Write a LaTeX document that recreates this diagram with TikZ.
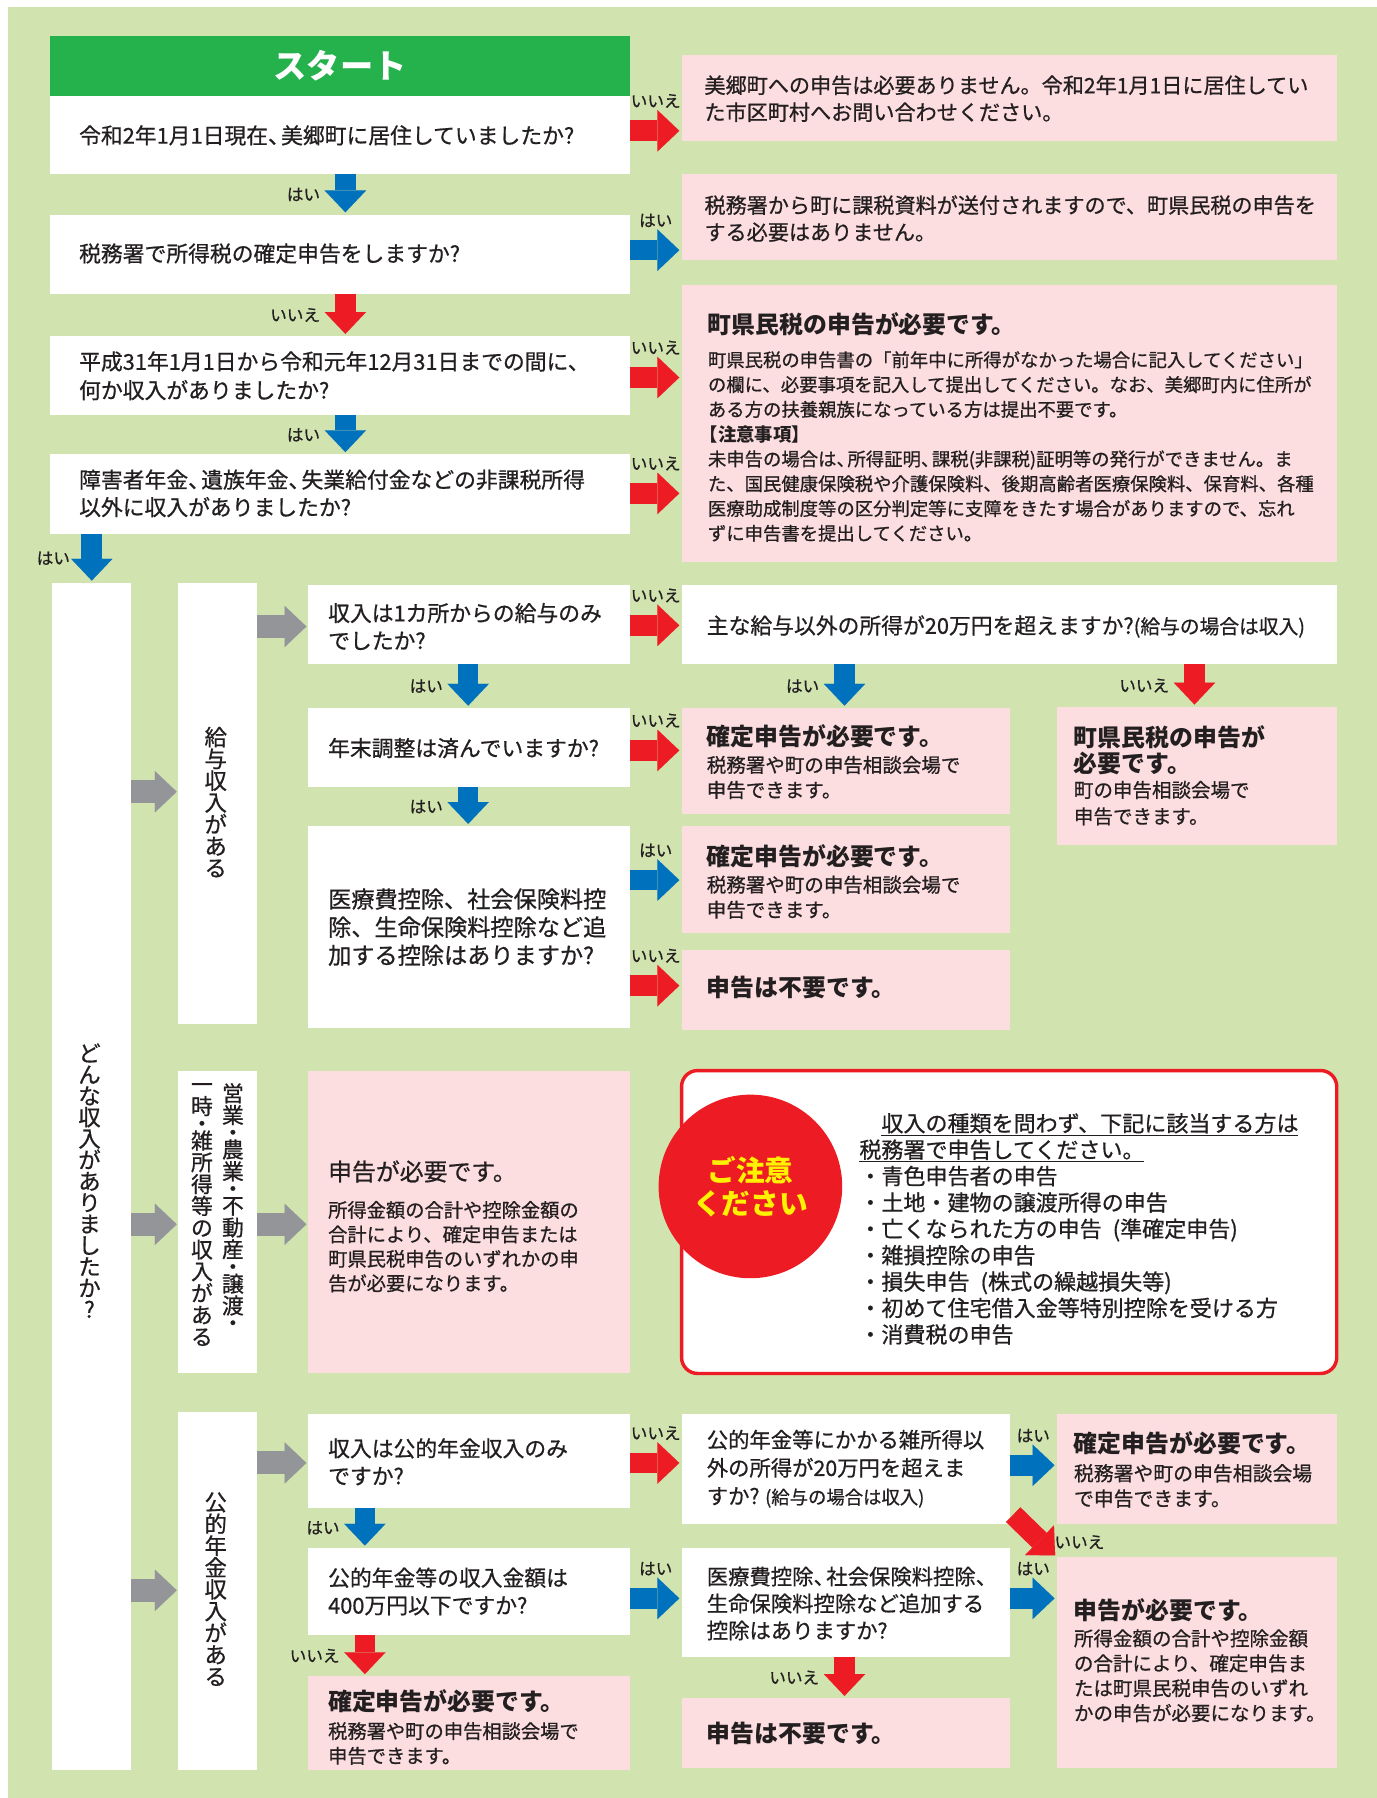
\documentclass[tikz,border=0pt]{standalone}
\usepackage{fontspec}
\setmainfont{Noto Sans CJK JP}[UprightFeatures={FakeBold=0.7}]
\usetikzlibrary{arrows.meta,calc}
\definecolor{bgc}{RGB}{209,228,176}
\definecolor{startc}{RGB}{37,177,76}
\definecolor{pinkc}{RGB}{252,221,224}
\definecolor{redc}{RGB}{237,28,36}
\definecolor{bluec}{RGB}{0,113,188}
\definecolor{grayc}{RGB}{147,149,152}
\definecolor{txtc}{RGB}{35,31,32}
\definecolor{yelc}{RGB}{255,241,0}
\newcommand\fsz[2]{\fontsize{#1pt}{#2pt}\selectfont}
\newcommand\tcm{、\kern-.4em}
\begin{document}
\begin{tikzpicture}[x=1pt,y=-1pt,
  box/.style={inner sep=0pt, outer sep=0pt, anchor=north west},
  wb/.style={box, fill=white},
  pb/.style={box, fill=pinkc},
  sz/.style 2 args={minimum width=#1pt, minimum height=#2pt},
  tx/.style={anchor=west, align=left, inner sep=0pt, outer sep=0pt, text=txtc},
  vt/.style={align=center, inner sep=0pt, outer sep=0pt, text=txtc},
  lbl/.style={inner sep=0pt, outer sep=0pt, text=txtc, font=\fsz{14.5}{14.5}},
  blk/.style={line width=18pt, -{Triangle[width=36pt,length=19pt,line width=0.01pt]}, shorten >=2pt},
  rA/.style={blk, draw=redc},
  bA/.style={blk, draw=bluec},
  gA/.style={line width=20pt, draw=grayc, -{Triangle[width=36pt,length=19pt,line width=0.01pt]}, shorten >=1pt},
  lup/.style={lbl, midway, above=20pt},
  llf/.style={lbl, midway, left=22pt},
]
\useasboundingbox (0,0) rectangle (1200,1567);
\fill[bgc] (7,6) rectangle (1200,1567);

% ---------- boxes ----------
\node[box, fill=startc, sz={505}{53}, text=white, font=\bfseries\fsz{29}{29}] (st) at (44,31) {スタート};
\node[wb, sz={505}{68}] (q1) at (44,84) {};
\node[wb, sz={505}{69}] (q2) at (44,187) {};
\node[wb, sz={505}{69}] (q3) at (44,293) {};
\node[wb, sz={505}{69}] (q4) at (44,396) {};
\node[pb, sz={571}{75}] (p1) at (594,48) {};
\node[pb, sz={571}{75}] (p2) at (594,152) {};
\node[pb, sz={571}{242}] (p3) at (594,248) {};
\node[wb, sz={69}{1035}] (ca) at (45,508) {};
\node[wb, sz={69}{384}] (b1) at (155,508) {};
\node[wb, sz={69}{264}] (b2) at (155,933) {};
\node[wb, sz={69}{312}] (b3) at (155,1231) {};
\node[wb, sz={281}{69}] (q5) at (268,510) {};
\node[wb, sz={571}{69}] (q6) at (594,510) {};
\node[wb, sz={281}{69}] (q7) at (268,617) {};
\node[pb, sz={286}{92}] (r1) at (594,617) {};
\node[pb, sz={244}{120}] (r2) at (921,616) {};
\node[wb, sz={281}{176}] (q8) at (268,720) {};
\node[pb, sz={286}{93}] (r3) at (594,720) {};
\node[pb, sz={286}{70}] (r4) at (594,828) {};
\node[pb, sz={281}{264}] (r5) at (268,933) {};
\node[box, fill=white, draw=redc, line width=3pt, rounded corners=14pt, sz={571}{264}] (nt) at (594,933) {};
\node[wb, sz={281}{82}] (q9) at (268,1232) {};
\node[wb, sz={286}{96}] (q10) at (594,1232) {};
\node[pb, sz={244}{96}] (r6) at (921,1232) {};
\node[wb, sz={281}{76}] (q11) at (268,1349) {};
\node[wb, sz={286}{95}] (q12) at (594,1349) {};
\node[pb, sz={244}{184}] (r7) at (921,1357) {};
\node[pb, sz={281}{82}] (r8) at (268,1461) {};
\node[pb, sz={286}{61}] (r9) at (594,1480) {};
\node[circle, fill=redc, minimum size=160pt, inner sep=0pt, align=center, text=yelc, font=\bfseries\fsz{25}{29}] (cc) at (654,1034) {ご注意\\ください};

% ---------- texts ----------
\node[tx, font=\fsz{19}{25}] (q1t) at (69,118) {令和2年1月1日現在\tcm 美郷町に居住していましたか?};
\node[tx, font=\fsz{19}{25}] (q2t) at (69,221) {税務署で所得税の確定申告をしますか?};
\node[tx, font=\fsz{19}{25}] (q3t) at (69,327.5) {平成31年1月1日から令和元年12月31日までの間に、\\何か収入がありましたか?};
\node[tx, font=\fsz{19}{24}] (q4t) at (69,430) {障害者年金\tcm 遺族年金\tcm 失業給付金などの非課税所得\\以外に収入がありましたか?};
\node[tx, font=\fsz{18.4}{23.5}] (p1t) at (614,86) {美郷町への申告は必要ありません。令和2年1月1日に居住してい\\た市区町村へお問い合わせください。};
\node[tx, font=\fsz{18.4}{23.5}] (p2t) at (614,190.5) {税務署から町に課税資料が送付されますので、町県民税の申告を\\する必要はありません。};
\node[tx, font=\bfseries\fsz{20.8}{25}] (p3h) at (617,283) {町県民税の申告が必要です。};
\node[tx, font=\fsz{16}{21.6}] (p3t) at (617,389.2) {町県民税の申告書の「前年中に所得がなかった場合に記入してください」\\の欄に、必要事項を記入して提出してください。なお、美郷町内に住所が\\ある方の扶養親族になっている方は提出不要です。\\{\bfseries\hspace*{-.45em}【注意事項】}\\未申告の場合は\tcm 所得証明\tcm 課税(非課税)証明等の発行ができません。ま\\た、国民健康保険税や介護保険料、後期高齢者医療保険料、保育料、各種\\医療助成制度等の区分判定等に支障をきたす場合がありますので、忘れ\\ずに申告書を提出してください。};

\node[tx, font=\fsz{19}{24}] (q5t) at (286,546) {収入は1カ所からの給与のみ\\でしたか?};
\node[tx, font=\fsz{19}{24}] (q6t) at (616,546) {主な給与以外の所得が20万円を超えますか?{\fsz{17.2}{24}(給与の場合は収入)}};
\node[tx, font=\fsz{19}{24}] (q7t) at (286,652) {年末調整は済んでいますか?};
\node[tx, font=\fsz{20.2}{24.5}] (q8t) at (286,808) {医療費控除、社会保険料控\\除、生命保険料控除など追\\加する控除はありますか?};
\node[tx, font=\bfseries\fsz{20.8}{25}] (r1h) at (616,642) {確定申告が必要です。};
\node[tx, font=\fsz{17}{21.8}] (r1t) at (616,677.6) {税務署や町の申告相談会場で\\申告できます。};
\node[tx, font=\bfseries\fsz{20.8}{23}] (r2h) at (936,653.7) {町県民税の申告が\\必要です。};
\node[tx, font=\fsz{17}{23}] (r2t) at (936,700) {町の申告相談会場で\\申告できます。};
\node[tx, font=\bfseries\fsz{20.8}{25}] (r3h) at (616,746.6) {確定申告が必要です。};
\node[tx, font=\fsz{17}{21.8}] (r3t) at (616,782) {税務署や町の申告相談会場で\\申告できます。};
\node[tx, font=\bfseries\fsz{20.8}{25}] (r4t) at (616,861) {申告は不要です。};

\node[tx, font=\fsz{20.8}{25}] (r5h) at (286,1021) {申告が必要です。};
\node[tx, font=\fsz{16.8}{21.3}] (r5t) at (286,1086.5) {所得金額の合計や控除金額の\\合計により、確定申告または\\町県民税申告のいずれかの申\\告が必要になります。};
\node[tx, font=\fsz{19.2}{23}] (ntt) at (749,1071) {\hspace*{19.2pt}\underline{収入の種類を問わず、下記に該当する方は}\\\underline{税務署で申告してください。}\\・青色申告者の申告\\・土地・建物の譲渡所得の申告\\・亡くなられた方の申告\hspace{.5em}(準確定申告)\\・雑損控除の申告\\・損失申告\hspace{.5em}(株式の繰越損失等)\\・初めて住宅借入金等特別控除を受ける方\\・消費税の申告};

\node[tx, font=\fsz{19}{24}] (q9t) at (286,1274) {収入は公的年金収入のみ\\ですか?};
\node[tx, font=\fsz{18.6}{24.5}] (q10t) at (616,1280) {公的年金等にかかる雑所得以\\外の所得が20万円を超えま\\すか?{\fsz{16}{24.5}\hspace{.3em}(給与の場合は収入)}};
\node[tx, font=\bfseries\fsz{20.8}{25}] (r6h) at (936,1258) {確定申告が必要です。};
\node[tx, font=\fsz{17.3}{22}] (r6t) at (936,1295) {税務署や町の申告相談会場\\で申告できます。};
\node[tx, font=\fsz{19}{24}] (q11t) at (286,1387) {公的年金等の収入金額は\\400万円以下ですか?};
\node[tx, font=\fsz{18.6}{23.5}] (q12t) at (616,1397.5) {医療費控除\tcm 社会保険料控除\tcm\\生命保険料控除など追加する\\控除はありますか?};
\node[tx, font=\bfseries\fsz{20.8}{25}] (r7h) at (936,1403) {申告が必要です。};
\node[tx, font=\fsz{17}{21.7}] (r7t) at (936,1460.5) {所得金額の合計や控除金額\\の合計により、確定申告ま\\たは町県民税申告のいずれ\\かの申告が必要になります。};
\node[tx, font=\bfseries\fsz{20.8}{25}] (r8h) at (286,1483) {確定申告が必要です。};
\node[tx, font=\fsz{16.8}{21.5}] (r8t) at (286,1519.5) {税務署や町の申告相談会場で\\申告できます。};
\node[tx, font=\bfseries\fsz{20.8}{25}] (r9t) at (616,1511) {申告は不要です。};

% vertical texts
\node[vt, font=\fsz{19.5}{18.6}] (cat) at (78,1029) {ど\\ん\\な\\収\\入\\が\\あ\\り\\ま\\し\\た\\か\\?};
\node[vt, font=\fsz{19.5}{19}] (b1t) at (188,699) {給\\与\\収\\入\\が\\あ\\る};
\node[vt, font=\fsz{19.5}{19}] (b3t) at (188,1385) {公\\的\\年\\金\\収\\入\\が\\あ\\る};
\node[vt, font=\fsz{19}{19}, anchor=north] (b2r) at (203,944) {営\\業\\[-4pt]・\\[-4pt]農\\業\\[-4pt]・\\[-4pt]不\\動\\産\\[-4pt]・\\[-4pt]譲\\渡\\[-4pt]・};
\node[vt, font=\fsz{19}{19}, anchor=north] (b2l) at (176,944) {一\\時\\[-4pt]・\\[-4pt]雑\\所\\得\\等\\の\\収\\入\\が\\あ\\る};

% ---------- connectors ----------
\draw[bA] (q1.south -| 301,0) -- (q2.north -| 301,0) node[llf] (l1) {はい};
\draw[rA] (q2.south -| 301,0) -- (q3.north -| 301,0) node[llf] (l2) {いいえ};
\draw[bA] (q3.south -| 301,0) -- (q4.north -| 301,0) node[llf] (l3) {はい};
\draw[bA] (q4.south -| 80,0) -- (ca.north -| 80,0) node[lbl, midway, left=19pt] (l4) {はい};
\draw[rA] (q1.east |- 0,114) -- (p1.west |- 0,114) node[lup] (l5) {いいえ};
\draw[bA] (q2.east |- 0,218) -- (p2.west |- 0,218) node[lup] (l6) {はい};
\draw[rA] (q3.east |- 0,329) -- (p3.west |- 0,329) node[lup] (l7) {いいえ};
\draw[rA] (q4.east |- 0,430) -- (p3.west |- 0,430) node[lup] (l8) {いいえ};

\draw[gA] (ca.east |- 0,690) -- (b1.west |- 0,690);
\draw[gA] (ca.east |- 0,1067) -- (b2.west |- 0,1067);
\draw[gA] (ca.east |- 0,1386) -- (b3.west |- 0,1386);
\draw[gA] (b1.east |- 0,546) -- (q5.west |- 0,546);
\draw[gA] (b2.east |- 0,1067) -- (r5.west |- 0,1067);
\draw[gA] (b3.east |- 0,1275) -- (q9.west |- 0,1275);

\draw[rA] (q5.east |- 0,545) -- (q6.west |- 0,545) node[lup] (l9) {いいえ};
\draw[bA] (q5.south -| 408,0) -- (q7.north -| 408,0) node[llf] (l10) {はい};
\draw[bA] (q6.south -| 736,0) -- (r1.north -| 736,0) node[llf] (l11) {はい};
\draw[rA] (q6.south -| 1041,0) -- (r2.north -| 1041,0) node[llf] (l12) {いいえ};
\draw[rA] (q7.east |- 0,654) -- (r1.west |- 0,654) node[lup] (l13) {いいえ};
\draw[bA] (q7.south -| 408,0) -- (q8.north -| 408,0) node[llf] (l14) {はい};
\draw[bA] (q8.east |- 0,767) -- (r3.west |- 0,767) node[lup] (l15) {はい};
\draw[rA] (q8.east |- 0,859) -- (r4.west |- 0,859) node[lup] (l16) {いいえ};

\draw[rA] (q9.east |- 0,1275) -- (q10.west |- 0,1275) node[lup] (l17) {いいえ};
\draw[bA] (q9.south -| 318,0) -- (q11.north -| 318,0) node[llf] (l18) {はい};
\draw[bA] (q10.east |- 0,1277) -- (r6.west |- 0,1277) node[lup] (l19) {はい};
\draw[rA] ($(q10.south east)+(3,-8)$) -- (r7.north west) node[lbl, pos=1, anchor=south west, xshift=-2pt, yshift=7pt] (l20) {いいえ};
\draw[bA] (q11.east |- 0,1393) -- (q12.west |- 0,1393) node[lup] (l21) {はい};
\draw[bA] (q12.east |- 0,1393) -- (r7.west |- 0,1393) node[lup] (l22) {はい};
\draw[rA] (q11.south -| 318,0) -- (r8.north -| 318,0) node[llf] (l23) {いいえ};
\draw[rA] (q12.south -| 736,0) -- (r9.north -| 736,0) node[llf] (l24) {いいえ};
\end{tikzpicture}
\end{document}
